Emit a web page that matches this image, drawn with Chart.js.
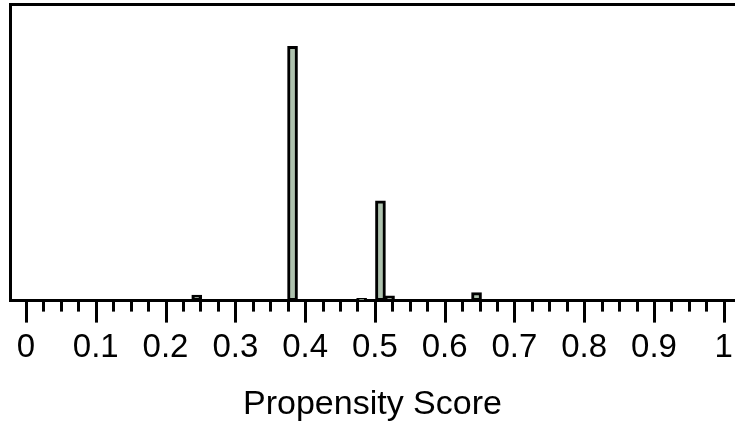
<!DOCTYPE html>
<html>
<head>
<meta charset="utf-8">
<script src="https://cdn.jsdelivr.net/npm/chart.js@4/dist/chart.umd.min.js"></script>
<style>
  body { margin: 0; background: #fff; }
  #box { width: 739px; height: 432px; position: relative; }
</style>
</head>
<body>
<div id="box"><canvas id="hist"></canvas></div>
<script>
// histogram bins (centre of bin) and heights in % of the panel height
const binCenters = [0.2447, 0.382, 0.481, 0.508, 0.521, 0.6457];
const binHeights = [1.9, 85.7, 0.8, 33.6, 1.6, 2.7];
const tickLabels = ["0", "0.1", "0.2", "0.3", "0.4", "0.5", "0.6", "0.7", "0.8", "0.9", "1"];
const axisTitle = "Propensity Score";

const xMin = -0.0229, xMax = 1.016;

Chart.defaults.font.family = "'Liberation Sans', Arial, sans-serif";
Chart.defaults.color = "#000";

const isMajor = (v) => Math.abs(v * 10 - Math.round(v * 10)) < 1e-6;

const points = binCenters.map((c, i) => ({x: c, y: binHeights[i]}));

// long ticks at every 0.1, short ones in between
const tickMarks = {
    id: "tickMarks",
    afterDraw(chart) {
        const sc = chart.scales.x;
        const ctx = chart.ctx;
        ctx.save();
        ctx.strokeStyle = "#000";
        ctx.lineWidth = 3;
        sc.ticks.forEach((t) => {
            const px = Math.round(sc.getPixelForValue(t.value)) + 0.5;
            const len = isMajor(t.value) ? 22 : 11;
            ctx.beginPath();
            ctx.moveTo(px, sc.top);
            ctx.lineTo(px, sc.top + len);
            ctx.stroke();
        });
        ctx.restore();
    },
};

new Chart(document.getElementById("hist"), {
    type: "bar",
    data: {
        datasets: [{
            data: points,
            backgroundColor: "#aec2ae",
            borderColor: "#000",
            borderWidth: 3,
            borderSkipped: false,
            barThickness: 10,
        }],
    },
    options: {
        responsive: true,
        maintainAspectRatio: false,
        animation: false,
        layout: {padding: {left: 10, top: 4, right: 0, bottom: 0}},
        plugins: {legend: {display: false}, tooltip: {enabled: false}},
        scales: {
            x: {
                type: "linear",
                position: "bottom",
                min: xMin,
                max: xMax,
                offset: false,
                border: {display: true, color: "#000", width: 3},
                grid: {
                    offset: false,
                    drawOnChartArea: false,
                    tickLength: 22,
                    tickColor: "rgba(0,0,0,0)",
                },
                ticks: {
                    stepSize: 0.025,
                    includeBounds: false,
                    autoSkip: false,
                    maxRotation: 0,
                    padding: 6,
                    font: {size: 33},
                    callback: (v) => isMajor(v) ? tickLabels[Math.round(v * 10)] : "",
                },
                title: {
                    display: true,
                    text: axisTitle,
                    font: {size: 34},
                    padding: {top: 10, bottom: 7},
                },
            },
            xTop: {
                type: "linear",
                position: "top",
                min: xMin,
                max: xMax,
                border: {display: true, color: "#000", width: 3},
                grid: {display: false, drawTicks: false},
                ticks: {display: false},
            },
            y: {
                min: 0,
                max: 100,
                position: "left",
                border: {display: true, color: "#000", width: 3},
                grid: {display: false, drawTicks: false},
                ticks: {display: false},
            },
        },
    },
    plugins: [tickMarks],
});
</script>
</body>
</html>
